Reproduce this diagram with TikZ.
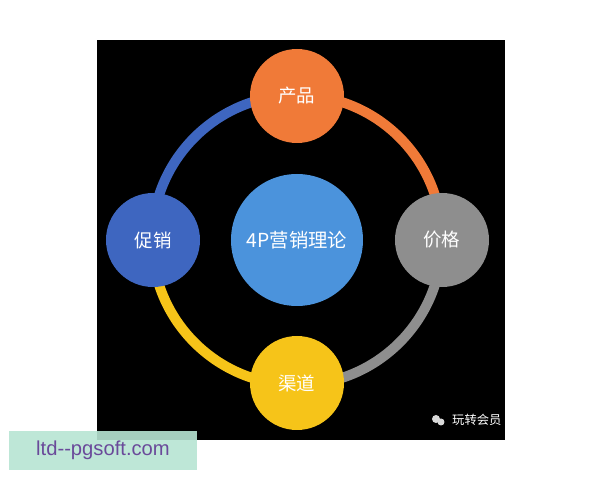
\documentclass[tikz,border=0pt]{standalone}
\usepackage{fontspec}
\setmainfont{Noto Sans CJK SC}
\newfontfamily\urlfont{Liberation Sans}
\usetikzlibrary{positioning}
\definecolor{porange}{HTML}{F07A38}
\definecolor{pgray}{HTML}{8E8E8E}
\definecolor{pyellow}{HTML}{F6C419}
\definecolor{pblue}{HTML}{3E66C0}
\definecolor{pcenter}{HTML}{4B93DC}
\definecolor{pmint}{HTML}{B7E5D3}
\definecolor{ppurple}{HTML}{6A4A9A}
\newlength\pxu
\setlength\pxu{0.02cm}
\tikzset{
 ball/.style={circle, minimum size=94\pxu, inner sep=0pt, text=white, font=\fontsize{10.5}{10.5}\selectfont},
 ring/.style={line width=10\pxu}
}

\begin{document}
\begin{tikzpicture}[x=0.02cm, y=-0.02cm]
 \useasboundingbox (0,0) rectangle (600,480);
 \fill[white] (0,0) rectangle (600,480);
 \fill[black] (97,40) rectangle (505,440);
 % the ring
 \coordinate (o) at (297,240);
 \draw[ring, porange] (297,95) arc[start angle=-90, end angle=0, radius=145];
 \draw[ring, pgray] (442,240) arc[start angle=0, end angle=90, radius=145];
 \draw[ring, pyellow] (297,385) arc[start angle=90, end angle=180, radius=145];
 \draw[ring, pblue] (152,240) arc[start angle=180, end angle=270, radius=145];
 % the five circles
 \node[ball, fill=pcenter, minimum size=132\pxu, font=\fontsize{11}{11}\selectfont] (core) at (o) {4P营销理论};
 \node[ball, fill=porange] (product) at (297,96) {产品};
 \node[ball, fill=pgray] (price) at (442,240) {价格};
 \node[ball, fill=pyellow] (place) at (297,383) {渠道};
 \node[ball, fill=pblue] (promo) at (153,240) {促销};
 % watermark
 \fill[white!85!black] (436,419) circle (4) (441,422) circle (3.5);
 \node[text=white, font=\fontsize{7}{7}\selectfont, anchor=west] (mark) at (446,420) {玩转会员};
 \fill[pmint, opacity=0.9] (9,431) rectangle (197,470);
 \node[text=ppurple, font=\urlfont\fontsize{11.5}{11.5}\selectfont] (site) at (103,450) {ltd--pgsoft.com};
\end{tikzpicture}
\end{document}
